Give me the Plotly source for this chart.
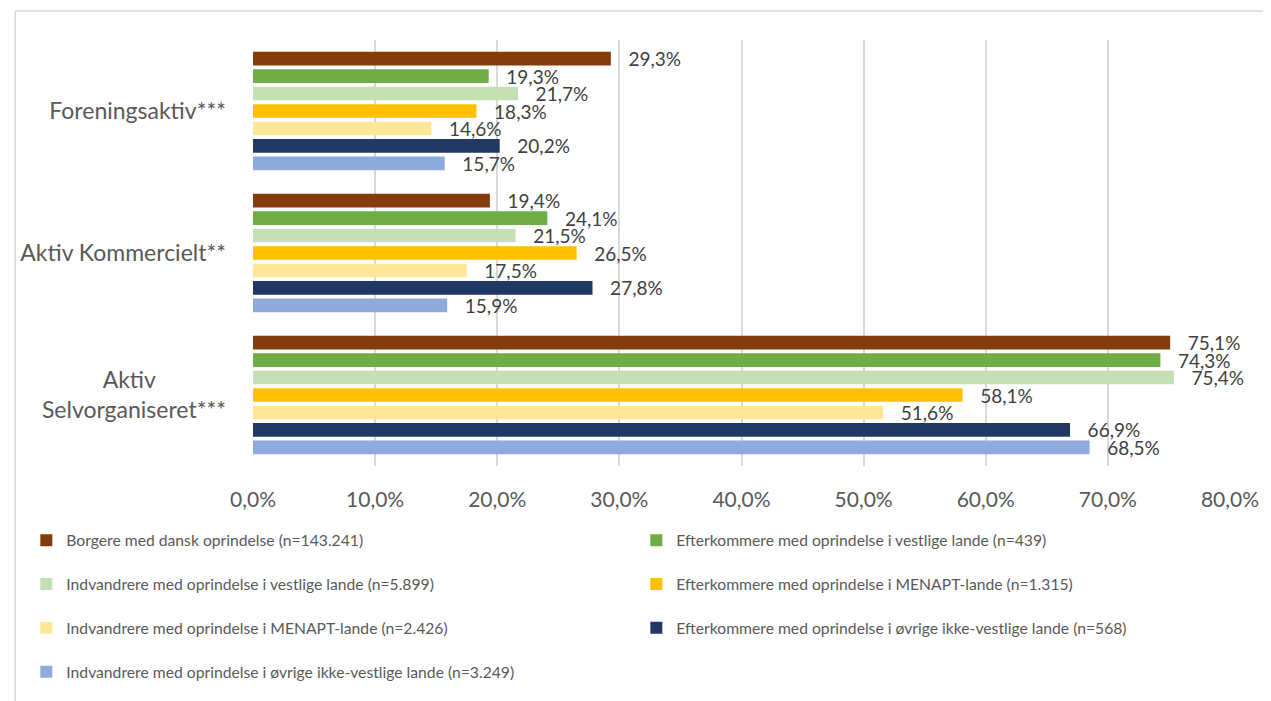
import plotly.graph_objects as go

categories = ["Foreningsaktiv***", "Aktiv Kommercielt**", "Aktiv<br>Selvorganiseret***"]
category_ticktext = ["Foreningsaktiv***", "Aktiv Kommercielt**",
                     "Aktiv" + "\u00a0" * 12 + "<br>Selvorganiseret***"]

series_names = [
    "Borgere med dansk oprindelse (n=143.241)",
    "Efterkommere med oprindelse i vestlige lande (n=439)",
    "Indvandrere med oprindelse i vestlige lande (n=5.899)",
    "Efterkommere med oprindelse i MENAPT-lande (n=1.315)",
    "Indvandrere med oprindelse i MENAPT-lande (n=2.426)",
    "Efterkommere med oprindelse i øvrige ikke-vestlige lande (n=568)",
    "Indvandrere med oprindelse i øvrige ikke-vestlige lande (n=3.249)",
]

borgere_dansk = [29.3, 19.4, 75.1]
efterk_vestlige = [19.3, 24.1, 74.3]
indv_vestlige = [21.7, 21.5, 75.4]
efterk_menapt = [18.3, 26.5, 58.1]
indv_menapt = [14.6, 17.5, 51.6]
efterk_ovrige = [20.2, 27.8, 66.9]
indv_ovrige = [15.7, 15.9, 68.5]

series_values = [borgere_dansk, efterk_vestlige, indv_vestlige, efterk_menapt,
                 indv_menapt, efterk_ovrige, indv_ovrige]
colors = ["#843C0C", "#70AD47", "#C5E0B4", "#FFC000", "#FFE699", "#203864", "#8FAADC"]

x_ticks = [0, 10, 20, 30, 40, 50, 60, 70, 80]
x_ticklabels = ["0,0%", "10,0%", "20,0%", "30,0%", "40,0%", "50,0%", "60,0%", "70,0%", "80,0%"]

FONT = "Lato"
fig = go.Figure()
n_series = len(series_names)
for i, (name, vals, col) in enumerate(zip(series_names, series_values, colors)):
    # two-line legend entries give the wide row spacing; the last row stays single-line
    legend_name = name + ("<br>\u00a0" if i < n_series - 1 else "")
    fig.add_trace(go.Bar(
        name=legend_name,
        y=categories,
        x=vals,
        orientation="h",
        marker=dict(color=col, line=dict(width=0)),
        text=["\u00a0\u00a0\u00a0" + f"{v:.1f}".replace(".", ",") + "%" for v in vals],
        textposition="outside",
        constraintext="none",
        cliponaxis=False,
        textfont=dict(family=FONT, size=19, color="#404040"),
        hoverinfo="x+y",
    ))

# page body has an 8px margin, so the figure is sized 8px smaller
fig.update_layout(
    width=1263, height=693,
    barmode="group",
    bargap=0.14,
    bargroupgap=0.22,
    paper_bgcolor="white",
    plot_bgcolor="white",
    margin=dict(l=240, r=41, t=32, b=233),
    font=dict(family=FONT, color="#595959"),
    xaxis=dict(
        range=[0, 80],
        tickvals=x_ticks,
        ticktext=x_ticklabels,
        showgrid=True,
        gridcolor="#D9D9D9",
        gridwidth=1.5,
        zeroline=False,
        showline=False,
        ticks="",
        ticklabelstandoff=19,
        tickfont=dict(family=FONT, size=21, color="#595959"),
    ),
    yaxis=dict(
        autorange="reversed",
        tickvals=categories,
        ticktext=category_ticktext,
        showgrid=False,
        showline=False,
        zeroline=False,
        ticks="",
        ticklabelstandoff=26,
        tickfont=dict(family=FONT, size=23, color="#595959"),
    ),
    legend=dict(
        orientation="h",
        x=-0.232, xanchor="left",
        y=-0.135, yanchor="top",
        entrywidth=565,
        entrywidthmode="pixels",
        valign="top",
        font=dict(family=FONT, size=15.7, color="#595959"),
        traceorder="normal",
    ),
    showlegend=True,
    shapes=[
        dict(type="line", xref="paper", yref="paper", x0=-0.2434, x1=1.2, y0=1.0678, y1=1.0678,
             line=dict(color="#D9D9D9", width=1.5)),
        dict(type="line", xref="paper", yref="paper", x0=-0.2434, x1=-0.2434, y0=-1.0, y1=1.0678,
             line=dict(color="#D9D9D9", width=1.5)),
    ],
)

fig.write_html("out.html")
